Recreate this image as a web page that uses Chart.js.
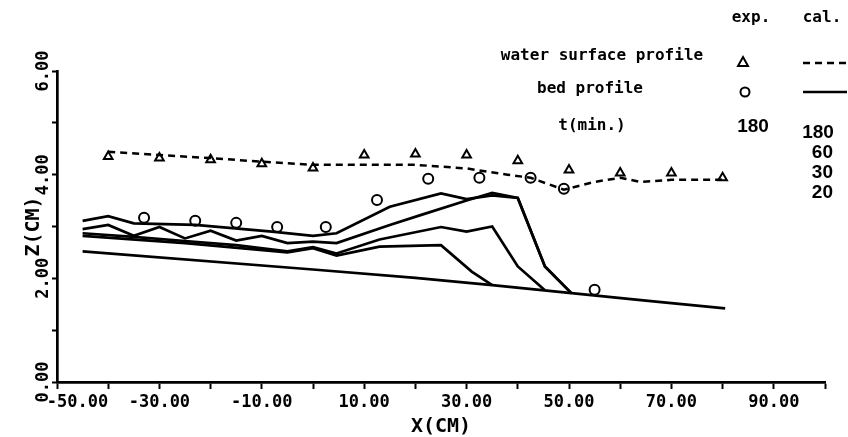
<!DOCTYPE html>
<html>
<head>
<meta charset="utf-8">
<script src="https://cdn.jsdelivr.net/npm/chart.js@4/dist/chart.umd.min.js"></script>
<style>
  html, body { margin: 0; padding: 0; background: #fff; }
  #wrap { width: 848px; height: 437px; }
</style>
</head>
<body>
<div id="wrap"><canvas id="chart" width="848" height="437"></canvas></div>
<script>
// measured water surface (triangles)
const expWaterX = [-40, -30, -20, -10, 0, 10, 20, 30, 40, 50, 60, 70, 80]
const expWaterZ = [4.35, 4.32, 4.29, 4.21, 4.13, 4.38, 4.40, 4.38, 4.27, 4.09, 4.03, 4.03, 3.94]

// measured bed (circles)
const expBedX = [-33, -23, -15, -7, 2.5, 12.5, 22.5, 32.5, 42.5, 49, 55]
const expBedZ = [3.17, 3.11, 3.07, 2.99, 2.99, 3.51, 3.92, 3.94, 3.94, 3.73, 1.78]

// calculated water surface (dashed)
const calWaterX = [-40, -30, -20, -10, 0, 10, 20, 30, 38, 42.5, 49, 55, 60, 64, 70, 80]
const calWaterZ = [4.44, 4.38, 4.32, 4.25, 4.19, 4.19, 4.19, 4.12, 4.0, 3.94, 3.71, 3.86, 3.94, 3.86, 3.9, 3.9]

// calculated bed profiles
const bed180X = [-45, -40, -35, -23, -8, 0, 4.6, 15, 25, 30, 35, 40, 45.3, 50.5]
const bed180Z = [3.11, 3.20, 3.06, 3.03, 2.90, 2.82, 2.87, 3.38, 3.64, 3.53, 3.60, 3.55, 2.23, 1.71]

const bed60X = [-45, -40, -35, -30, -25, -20, -15, -10, -5, 0, 4.6, 15, 21, 30, 35, 40, 45.3, 50.5]
const bed60Z = [2.95, 3.03, 2.82, 2.99, 2.77, 2.92, 2.73, 2.82, 2.68, 2.71, 2.68, 3.03, 3.22, 3.50, 3.65, 3.55, 2.23, 1.71]

const bed30X = [-45, -35, -25, -15, -5, 0, 4.6, 13, 25, 30, 35, 40, 45.3]
const bed30Z = [2.87, 2.80, 2.72, 2.64, 2.52, 2.60, 2.48, 2.75, 2.99, 2.90, 3.00, 2.23, 1.77]

const bed20X = [-45, -25, -5, 0, 4.6, 13, 25, 31, 35]
const bed20Z = [2.82, 2.68, 2.50, 2.58, 2.44, 2.61, 2.64, 2.13, 1.87]

// initial bed
const bed0X = [-45, 0, 20, 35, 50, 65, 80.5]
const bed0Z = [2.52, 2.17, 2.01, 1.87, 1.72, 1.57, 1.42]

const legendRows = ["water surface profile", "bed profile", "t(min.)"]
const expTime = "180"
const calTimes = ["180", "60", "30", "20"]

const pts = (xs, zs) => xs.map((x, i) => ({ x: x, y: zs[i] }))

const plotFont = "'DejaVu Sans Mono', monospace"

const bedLine = (label, xs, zs) => ({
    label: label,
    data: pts(xs, zs),
    borderColor: "#000",
    borderWidth: 2.7,
    pointRadius: 0,
    fill: false,
    tension: 0,
})

const legendTable = {
    id: "legendTable",
    afterDraw(chart) {
        const ctx = chart.ctx
        ctx.save()
        ctx.fillStyle = "#000"
        ctx.strokeStyle = "#000"
        ctx.textBaseline = "middle"
        ctx.textAlign = "center"
        ctx.font = "bold 16px " + plotFont
        ctx.fillText("exp.", 751, 18)
        ctx.fillText("cal.", 822, 18)
        ctx.fillText(legendRows[0], 602, 56)
        ctx.fillText(legendRows[1], 590, 89)
        ctx.fillText(legendRows[2], 592, 126)

        // triangle
        ctx.lineWidth = 2
        ctx.beginPath()
        ctx.moveTo(743, 57)
        ctx.lineTo(748, 66)
        ctx.lineTo(738, 66)
        ctx.closePath()
        ctx.stroke()
        // circle
        ctx.beginPath()
        ctx.arc(745, 92, 4.5, 0, Math.PI * 2)
        ctx.stroke()
        // dashed
        ctx.lineWidth = 2.5
        ctx.setLineDash([7, 5])
        ctx.beginPath()
        ctx.moveTo(803, 63)
        ctx.lineTo(847, 63)
        ctx.stroke()
        ctx.setLineDash([])
        ctx.beginPath()
        ctx.moveTo(803, 92)
        ctx.lineTo(847, 92)
        ctx.stroke()

        ctx.font = "bold 19px 'Liberation Sans', Arial, sans-serif"
        ctx.fillText(expTime, 753, 127)
        calTimes.forEach((t, i) => {
            ctx.textAlign = i == 0 ? "center" : "right"
            ctx.fillText(t, i == 0 ? 818 : 833, 133 + i * 20)
        })
        ctx.restore()
    }
}

const chart = new Chart(document.getElementById("chart"), {
    type: "line",
    data: {
        datasets: [
            {
                label: "exp. water surface",
                data: pts(expWaterX, expWaterZ),
                showLine: false,
                pointStyle: "triangle",
                pointRadius: 5,
                pointBorderWidth: 2,
                pointBackgroundColor: "rgba(255,255,255,0)",
                pointBorderColor: "#000",
            },
            {
                label: "exp. bed",
                data: pts(expBedX, expBedZ),
                showLine: false,
                pointStyle: "circle",
                pointRadius: 5,
                pointBorderWidth: 2,
                pointBackgroundColor: "rgba(255,255,255,0)",
                pointBorderColor: "#000",
            },
            {
                label: "cal. water surface",
                data: pts(calWaterX, calWaterZ),
                borderColor: "#000",
                borderWidth: 2.5,
                borderDash: [7, 5],
                pointRadius: 0,
                fill: false,
                tension: 0,
            },
            bedLine("cal. bed 180", bed180X, bed180Z),
            bedLine("cal. bed 60", bed60X, bed60Z),
            bedLine("cal. bed 30", bed30X, bed30Z),
            bedLine("cal. bed 20", bed20X, bed20Z),
            bedLine("initial bed", bed0X, bed0Z),
        ],
    },
    options: {
        responsive: false,
        devicePixelRatio: 1,
        animation: false,
        layout: { padding: { top: 71, right: 23, left: 0, bottom: 0 } },
        plugins: {
            legend: { display: false },
            tooltip: { enabled: false },
        },
        scales: {
            x: {
                type: "linear",
                min: -50,
                max: 100,
                afterFit(scale) { scale.height = 55 },
                border: { display: true, color: "#000", width: 2.7 },
                grid: {
                    drawOnChartArea: false,
                    drawTicks: true,
                    tickLength: 7,
                    tickColor: "#000",
                    tickWidth: 2,
                },
                ticks: {
                    stepSize: 10,
                    autoSkip: false,
                    maxRotation: 0,
                    padding: 3,
                    color: "#000",
                    font: { family: plotFont, size: 17, weight: "bold" },
                    // first label sits to the right of its tick, as in the plot
                    callback: (v) => {
                        if ((v + 50) % 20 != 0 || v >= 100) return ""
                        return v == -50 ? "    " + v.toFixed(2) : v.toFixed(2)
                    },
                },
                title: {
                    display: true,
                    text: "X(CM)",
                    color: "#000",
                    padding: 0,
                    font: { family: plotFont, size: 20, weight: "bold", lineHeight: 1 },
                },
            },
            y: {
                min: 0,
                max: 6,
                afterFit(scale) { scale.width = 57 },
                border: { display: true, color: "#000", width: 2.7 },
                grid: {
                    drawOnChartArea: false,
                    drawTicks: true,
                    tickLength: 5,
                    tickColor: "#000",
                    tickWidth: 2,
                },
                ticks: {
                    stepSize: 1,
                    autoSkip: false,
                    minRotation: 90,
                    maxRotation: 90,
                    crossAlign: "center",
                    padding: -12,
                    color: "#000",
                    font: { family: plotFont, size: 17, weight: "bold" },
                    callback: (v) => v % 2 == 0 ? v.toFixed(2) : "",
                },
                title: {
                    display: true,
                    text: "Z(CM)",
                    color: "#000",
                    padding: { top: 22, bottom: 0 },
                    font: { family: plotFont, size: 20, weight: "bold", lineHeight: 1.2 },
                },
            },
        },
    },
    plugins: [legendTable],
})
</script>
</body>
</html>
